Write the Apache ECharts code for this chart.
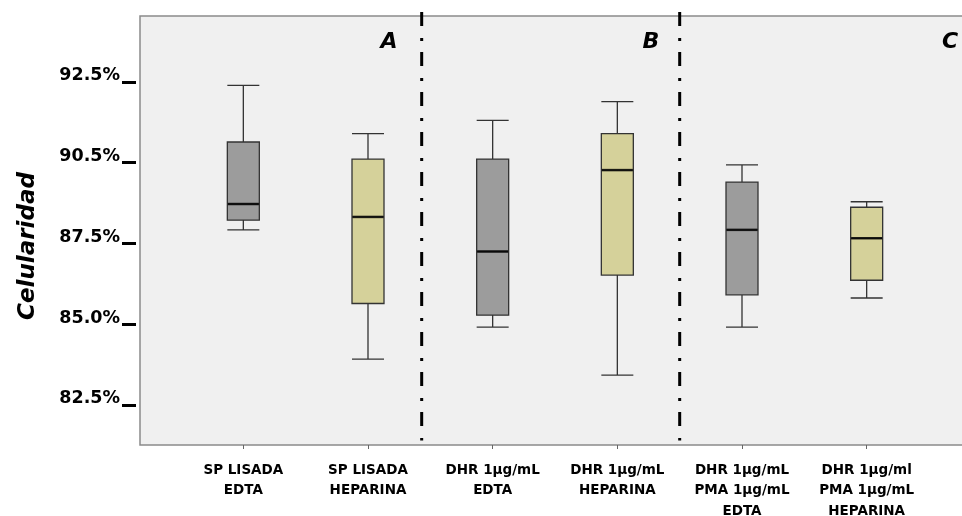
<!DOCTYPE html>
<html>
<head>
<meta charset="utf-8">
<script src="https://cdn.jsdelivr.net/npm/echarts@6/dist/echarts.min.js"></script>
<style>
  html, body { margin: 0; padding: 0; background: #fff; }
  #chart { width: 962px; height: 516px; }
</style>
</head>
<body>
<div id="chart"></div>
<script>
// categorias (eje x)
const categories = [
  'SP LISADA\nEDTA',
  'SP LISADA\nHEPARINA',
  'DHR 1µg/mL\nEDTA',
  'DHR 1µg/mL\nHEPARINA',
  'DHR 1µg/mL\nPMA 1µg/mL\nEDTA',
  'DHR 1µg/ml\nPMA 1µg/mL\nHEPARINA'
]
// valores de cada caja
const whiskerLow = [87.92, 83.92, 84.91, 83.42, 84.91, 85.81]
const q1 = [88.22, 85.64, 85.28, 86.52, 85.91, 86.36]
const medians = [88.72, 88.32, 87.25, 89.77, 87.92, 87.66]
const q3 = [90.64, 90.11, 90.11, 90.9, 89.4, 88.62]
const whiskerHigh = [92.39, 90.9, 91.31, 91.89, 89.93, 88.79]
const boxColors = ['#9c9c9c', '#d5d19a', '#9c9c9c', '#d5d19a', '#9c9c9c', '#d5d19a']
// eje y
const tickValues = [82.5, 85, 87.5, 90, 92.5]
const tickLabels = ['82.5%', '85.0%', '87.5%', '90.5%', '92.5%']
// separadores entre grupos (en unidades de categoria)
const dividerAt = [1.433, 3.502]
const panelLabels = ['A', 'B', 'C']

const font = 'DejaVu Sans'
const yMin = 81.26
const yMax = 94.54

let chart = echarts.init(document.getElementById('chart'))

let boxData = categories.map((c, i) => ({
  value: [whiskerLow[i], q1[i], medians[i], q3[i], whiskerHigh[i]],
  itemStyle: { color: boxColors[i] }
}))

let dividerSeries = dividerAt.map(x => ({
  type: 'line',
  xAxisIndex: 0,
  yAxisIndex: 0,
  clip: false,
  silent: true,
  symbol: 'none',
  lineStyle: { color: '#000', width: 3, type: [14, 12, 3, 11] },
  data: [[x, 94.66], [x, 81.4]]
}))

let panelText = (text, x) => ({
  type: 'text',
  x: x,
  y: 42,
  style: {
    text: text,
    fill: '#000',
    font: 'italic bold 22px "DejaVu Sans"',
    align: 'center',
    verticalAlign: 'middle'
  }
})

let option = {
  animation: false,
  grid: [
    {
      left: 140,
      right: -2,
      top: 16,
      bottom: 71,
      outerBoundsMode: 'none',
      show: true,
      backgroundColor: '#f0f0f0',
      borderColor: '#8a8a8a',
      borderWidth: 1.5
    },
    {
      left: 181,
      width: 748,
      top: 16,
      bottom: 71,
      outerBoundsMode: 'none'
    }
  ],
  xAxis: [
    {
      gridIndex: 0,
      type: 'value',
      min: -0.826,
      max: 5.782,
      show: false
    },
    {
      gridIndex: 1,
      type: 'category',
      data: categories,
      axisLine: { show: false },
      axisTick: {
        show: true,
        alignWithLabel: true,
        length: 4,
        lineStyle: { color: '#666' }
      },
      axisLabel: {
        interval: 0,
        margin: 15,
        color: '#000',
        fontFamily: font,
        fontWeight: 'bold',
        fontSize: 13.5,
        lineHeight: 20.5
      },
      splitLine: { show: false }
    }
  ],
  yAxis: [
    {
      gridIndex: 0,
      type: 'value',
      min: yMin,
      max: yMax,
      offset: 4,
      axisLine: { show: false, onZero: false },
      axisTick: {
        show: true,
        customValues: tickValues,
        length: 14,
        lineStyle: { color: '#000', width: 3 }
      },
      axisLabel: {
        customValues: tickValues,
        margin: 16,
        verticalAlign: 'bottom',
        lineHeight: 12,
        color: '#000',
        fontFamily: font,
        fontWeight: 'bold',
        fontSize: 17.5,
        formatter: v => {
          let k = tickValues.findIndex(t => Math.abs(t - v) < 1e-6)
          return k >= 0 ? tickLabels[k] : ''
        }
      },
      splitLine: { show: false }
    },
    {
      gridIndex: 1,
      type: 'value',
      min: yMin,
      max: yMax,
      show: false
    }
  ],
  graphic: [
    {
      type: 'text',
      x: 28,
      y: 246,
      rotation: Math.PI / 2,
      style: {
        text: 'Celularidad',
        fill: '#000',
        font: 'italic bold 23px "DejaVu Sans"',
        align: 'center',
        verticalAlign: 'middle'
      }
    },
    panelText(panelLabels[0], 389),
    panelText(panelLabels[1], 651),
    panelText(panelLabels[2], 950)
  ],
  series: [
    ...dividerSeries,
    {
      name: 'Celularidad',
      type: 'boxplot',
      xAxisIndex: 1,
      yAxisIndex: 1,
      boxWidth: [32, 32],
      itemStyle: {
        borderColor: '#333',
        borderWidth: 1.3
      },
      data: boxData
    },
    {
      name: 'mediana',
      type: 'scatter',
      xAxisIndex: 1,
      yAxisIndex: 1,
      symbol: 'rect',
      symbolSize: [31, 2.5],
      itemStyle: { color: '#000' },
      z: 5,
      data: medians
    }
  ]
}

chart.setOption(option)
</script>
</body>
</html>
